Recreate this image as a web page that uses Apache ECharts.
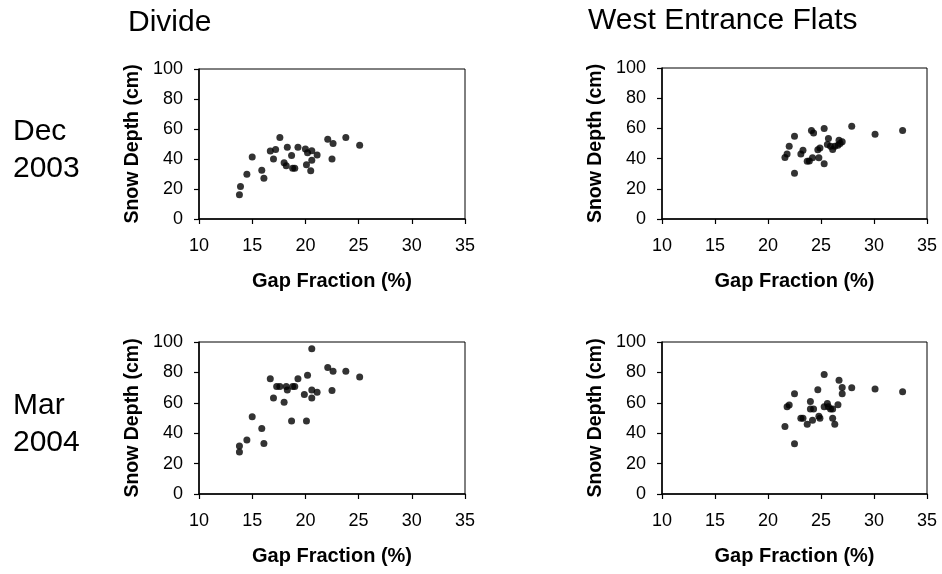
<!DOCTYPE html>
<html>
<head>
<meta charset="utf-8">
<script src="https://cdn.jsdelivr.net/npm/echarts@6/dist/echarts.min.js"></script>
<style>
html,body{margin:0;padding:0;background:#fff;}
#chart{width:942px;height:574px;}
</style>
</head>
<body>
<div id="chart"></div>
<script>
// Column / row titles
const columnTitles = ['Divide', 'West Entrance Flats'];
const rowTitles = ['Dec\n2003', 'Mar\n2004'];
const xName = 'Gap Fraction (%)';
const yName = 'Snow Depth (cm)';
const xTicks = [10, 15, 20, 25, 30, 35];
const yTicks = [0, 20, 40, 60, 80, 100];

// Divide, Dec 2003: [gap fraction %, snow depth cm]
const divideDec = [
  [13.8,16.1],[13.9,21.6],[14.5,29.8],[15.0,41.3],[15.9,32.5],[16.1,27.2],
  [16.7,45.3],[17.2,46.4],[17.0,40.0],[17.6,54.3],[18.0,37.5],[18.2,35.5],
  [18.3,47.9],[18.7,42.4],[18.8,33.8],[19.0,33.8],[19.3,47.9],[20.0,46.6],
  [20.2,44.2],[20.1,36.2],[20.6,45.5],[20.6,39.1],[20.5,32.2],[21.1,42.6],
  [22.1,53.2],[22.6,50.3],[22.5,40.0],[23.8,54.3],[25.1,49.2]
];
// West Entrance Flats, Dec 2003
const westDec = [
  [21.6,40.8],[21.8,43.0],[22.0,48.2],[22.5,54.8],[22.5,30.3],[23.1,43.0],
  [23.3,45.6],[23.7,38.2],[23.9,38.4],[24.2,40.6],[24.1,58.6],[24.3,57.0],
  [24.7,45.8],[24.9,47.1],[24.8,40.6],[25.3,59.9],[25.3,36.6],[25.7,53.3],
  [25.6,49.3],[25.9,48.2],[26.1,46.1],[26.3,48.2],[26.6,48.9],[26.7,52.2],
  [26.8,50.0],[27.0,51.1],[27.9,61.4],[30.1,56.1],[32.7,58.6]
];
// Divide, Mar 2004
const divideMar = [
  [13.8,27.7],[13.8,31.6],[14.5,35.6],[15.0,50.8],[15.9,43.1],[16.1,33.2],
  [16.7,75.8],[17.0,63.1],[17.3,70.8],[17.6,70.8],[18.0,60.4],[18.2,70.8],
  [18.3,68.4],[18.7,48.1],[18.8,70.8],[19.0,70.8],[19.3,75.8],[19.9,65.5],
  [20.1,48.1],[20.2,78.2],[20.6,68.4],[20.6,63.1],[20.6,95.6],[21.1,67.0],
  [22.1,83.3],[22.6,80.7],[22.5,68.1],[23.8,80.7],[25.1,76.9]
];
// West Entrance Flats, Mar 2004
const westMar = [
  [21.6,44.4],[21.8,57.4],[22.0,58.5],[22.5,65.9],[22.5,33.0],[23.1,49.9],
  [23.3,49.9],[23.7,45.9],[24.0,60.9],[24.0,56.0],[24.3,56.0],[24.2,48.6],
  [24.7,68.6],[24.8,51.2],[24.9,49.9],[25.3,78.7],[25.3,57.4],[25.6,59.6],
  [25.7,57.4],[25.9,56.0],[26.1,56.0],[26.1,49.9],[26.3,45.9],[26.6,58.7],
  [26.7,74.9],[27.0,70.1],[27.0,65.9],[27.9,69.9],[30.1,69.0],[32.7,67.3]
];

const panels = [divideDec, westDec, divideMar, westMar];
const grids = [
  {left:199, top:69, width:266, height:150},
  {left:662, top:68, width:265, height:151},
  {left:199, top:342, width:266, height:152},
  {left:662, top:342, width:265, height:152}
];

const FONT = 'Liberation Sans, Arial, Helvetica, sans-serif';
const axisLineStyle = {color:'#000', width:1.5};

const option = {
  backgroundColor:'#fff',
  animation:false,
  textStyle:{fontFamily:FONT},
  grid: grids.map(g => Object.assign({show:true, borderColor:'#000', borderWidth:1, backgroundColor:'transparent', containLabel:false}, g)),
  xAxis: grids.map((g,i) => ({
    gridIndex:i, type:'value',
    min:xTicks[0], max:xTicks[xTicks.length-1], interval:xTicks[1]-xTicks[0],
    axisLine:{show:true, onZero:false, lineStyle:axisLineStyle},
    axisTick:{show:true, inside:false, length:5, lineStyle:{color:'#000', width:1.2}},
    axisLabel:{color:'#000', fontSize:18, fontFamily:FONT, margin:18},
    splitLine:{show:false},
    name:xName, nameLocation:'middle', nameGap:52,
    nameTextStyle:{color:'#000', fontSize:20, fontWeight:'bold', fontFamily:FONT}
  })),
  yAxis: grids.map((g,i) => ({
    gridIndex:i, type:'value',
    min:yTicks[0], max:yTicks[yTicks.length-1], interval:yTicks[1]-yTicks[0],
    axisLine:{show:true, onZero:false, lineStyle:axisLineStyle},
    axisTick:{show:true, inside:false, length:5, lineStyle:{color:'#000', width:1.2}},
    axisLabel:{color:'#000', fontSize:18, fontFamily:FONT, margin:16},
    splitLine:{show:false},
    name:yName, nameLocation:'middle', nameGap:56, nameRotate:90,
    nameTextStyle:{color:'#000', fontSize:19.5, fontWeight:'bold', fontFamily:FONT}
  })),
  series: panels.map((d,i) => ({
    type:'scatter', xAxisIndex:i, yAxisIndex:i, data:d,
    symbol:'circle', symbolSize:7,
    itemStyle:{color:'#000'}
  })),
  graphic:[
    {type:'text', left:128, top:8, style:{text:columnTitles[0], font:'30px ' + FONT, fill:'#000'}},
    {type:'text', left:588, top:6, style:{text:columnTitles[1], font:'30px ' + FONT, fill:'#000'}},
    {type:'text', left:13, top:113, style:{text:rowTitles[0], font:'30px ' + FONT, lineHeight:37, fill:'#000'}},
    {type:'text', left:13, top:387, style:{text:rowTitles[1], font:'30px ' + FONT, lineHeight:37, fill:'#000'}}
  ]
};

const chart = echarts.init(document.getElementById('chart'), null, {renderer:'canvas'});
chart.setOption(option);
</script>
</body>
</html>
